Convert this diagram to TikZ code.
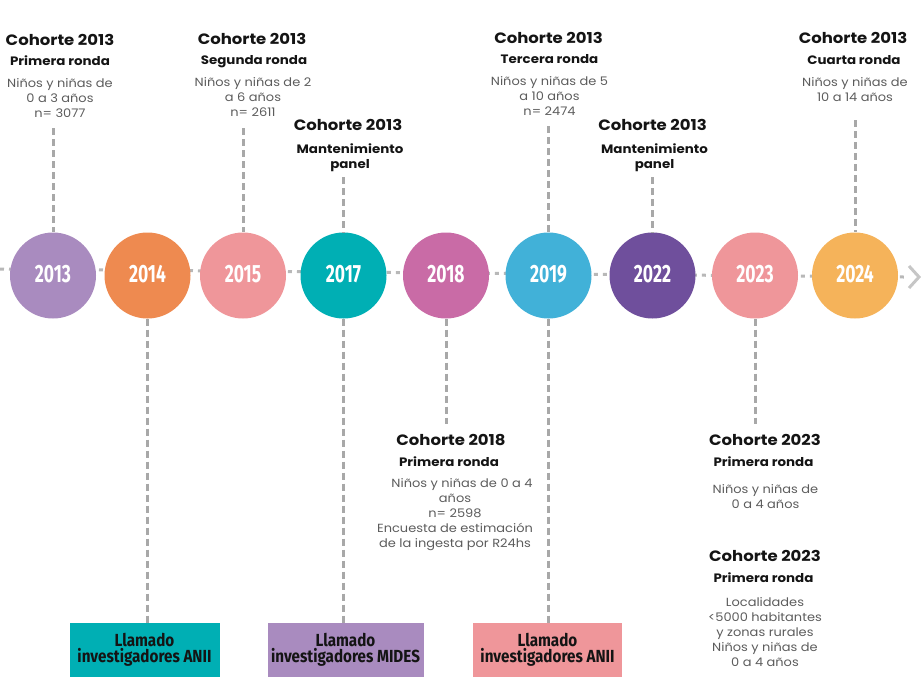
\documentclass[tikz,border=0pt]{standalone}
\usepackage{fontspec}
\setmainfont{Poppins}[FakeStretch=1.1]
\newfontfamily\yearfont[FakeStretch=0.7]{Fira Sans}
\newfontfamily\boxfont[FakeStretch=0.87]{Fira Sans}
\definecolor{cA}{HTML}{A98BBF}
\definecolor{cB}{HTML}{EE8A50}
\definecolor{cC}{HTML}{EF969A}
\definecolor{cD}{HTML}{00AFB4}
\definecolor{cE}{HTML}{C96BA6}
\definecolor{cF}{HTML}{41B1D8}
\definecolor{cG}{HTML}{6F4F9C}
\definecolor{cH}{HTML}{F5B35A}
\definecolor{txtdark}{HTML}{141414}
\definecolor{txtgray}{HTML}{5C5C5C}
\definecolor{dashgray}{HTML}{A8A8A8}
\definecolor{dotgray}{HTML}{B8B8B8}
\begin{document}
\begin{tikzpicture}[x=1pt,y=-1pt,
  yr/.style={circle, minimum size=86pt, inner sep=0pt, text=white,
    font=\yearfont\bfseries\fontsize{25}{25}\selectfont},
  ttl/.style={font=\bfseries\fontsize{15}{17}\selectfont, text=txtdark, inner sep=0pt, anchor=base},
  subt/.style={font=\bfseries\fontsize{12.2}{15}\selectfont, text=txtdark, inner sep=0pt, anchor=base, align=center},
  subtm/.style={subt, anchor=north},
  bodyt/.style={font=\fontsize{11.8}{15}\selectfont, text=txtgray, inner sep=0pt, anchor=north, align=center},
  vdash/.style={draw=dashgray, line width=3pt, dash pattern=on 7pt off 4pt},
  hdot/.style={draw=dotgray, line width=3pt, dash pattern=on 4pt off 5pt},
  callbox/.style={minimum width=150pt, minimum height=54pt, inner sep=0pt, text=txtdark, align=center,
    font=\boxfont\bfseries\fontsize{17.5}{16.5}\selectfont}
]
\useasboundingbox (0,0) rectangle (921,689);
% timeline
\coordinate (tl0) at (0,269);
\coordinate (tl1) at (904,277);
\draw[hdot] (tl0) -- (tl1);
\coordinate (arT) at (909,266);
\coordinate (arM) at (919,277);
\coordinate (arB) at (909,288);
\draw[draw=dotgray!80, line width=3pt] (arT) -- (arM) -- (arB);
% circles
\node[yr, fill=cA] (c2013) at (53,275.5) {\raisebox{4pt}{2013}};
\node[yr, fill=cB] (c2014) at (147.5,275.5) {\raisebox{4pt}{2014}};
\node[yr, fill=cC] (c2015) at (243,275.5) {\raisebox{4pt}{2015}};
\node[yr, fill=cD] (c2017) at (343.5,275.5) {\raisebox{4pt}{2017}};
\node[yr, fill=cE] (c2018) at (446,275.5) {\raisebox{4pt}{2018}};
\node[yr, fill=cF] (c2019) at (548.5,275.5) {\raisebox{4pt}{2019}};
\node[yr, fill=cG] (c2022) at (652.5,275.5) {\raisebox{4pt}{2022}};
\node[yr, fill=cC] (c2023) at (755,275.5) {\raisebox{4pt}{2023}};
\node[yr, fill=cH] (c2024) at (855,275.5) {\raisebox{4pt}{2024}};
% top groups
\node[ttl] (t1) at (60,45) {Cohorte 2013};
\node[subt] (s1) at (60,65) {Primera ronda};
\node[bodyt] (b1) at (60,78.5) {Niños y niñas de\\0 a 3 años\\n= 3077};
\node[ttl] (t2) at (252,44) {Cohorte 2013};
\node[subt] (s2) at (254,64) {Segunda ronda};
\node[bodyt] (b2) at (253,77.5) {Niños y niñas de 2\\a 6 años\\n= 2611};
\node[ttl] (t3) at (348,130) {Cohorte 2013};
\node[subtm] (s3) at (350,143.5) {Mantenimiento\\panel};
\node[ttl] (t4) at (548.5,43.5) {Cohorte 2013};
\node[subt] (s4) at (549.5,63) {Tercera ronda};
\node[bodyt] (b4) at (549.5,76.5) {Niños y niñas de 5\\a 10 años\\n= 2474};
\node[ttl] (t5) at (652.5,130) {Cohorte 2013};
\node[subtm] (s5) at (654.5,143.5) {Mantenimiento\\panel};
\node[ttl] (t6) at (853,43) {Cohorte 2013};
\node[subt] (s6) at (854,64) {Cuarta ronda};
\node[bodyt] (b6) at (855,77.5) {Niños y niñas de\\10 a 14 años};
% bottom groups
\node[ttl] (t7) at (451,445) {Cohorte 2018};
\node[subt] (s7) at (449,466) {Primera ronda};
\node[bodyt] (b7) at (455,478.5) {\hspace*{14pt}Niños y niñas de 0 a 4\\años\\n= 2598\\Encuesta de estimación\\de la ingesta por R24hs};
\node[ttl] (t8) at (765,445) {Cohorte 2023};
\node[subt] (s8) at (763.5,466) {Primera ronda};
\node[bodyt] (b8) at (765.5,484.5) {Niños y niñas de\\0 a 4 años};
\node[ttl] (t9) at (765,561) {Cohorte 2023};
\node[subt] (s9) at (763.5,582) {Primera ronda};
\node[bodyt] (b9) at (765,597.5) {Localidades\\<5000 habitantes\\y zonas rurales\\Niños y niñas de\\0 a 4 años};
% boxes
\node[callbox, fill=cD] (k1) at (144.5,650) {Llamado\\investigadores ANII};
\node[callbox, fill=cA, minimum width=156pt] (k2) at (345.5,650) {Llamado\\investigadores MIDES};
\node[callbox, fill=cC, minimum width=149pt] (k3) at (547.5,650) {Llamado\\investigadores ANII};
% connectors up
\coordinate (u1) at (53,128);
\coordinate (u2) at (243,128);
\coordinate (u3) at (343.5,177);
\coordinate (u4) at (548.5,126);
\coordinate (u5) at (652.5,177);
\coordinate (u6) at (855,120);
\draw[vdash] (u1) -- (c2013);
\draw[vdash] (u2) -- (c2015);
\draw[vdash] (u3) -- (c2017);
\draw[vdash] (u4) -- (c2019);
\draw[vdash] (u5) -- (c2022);
\draw[vdash] (u6) -- (c2024);
% connectors down
\coordinate (d7) at (446,424);
\coordinate (d8) at (755,424);
\draw[vdash] (c2014) -- (k1.north -| c2014) ;
\draw[vdash] (c2017) -- (k2.north -| c2017);
\draw[vdash] (c2019) -- (k3.north -| c2019);
\draw[vdash] (c2018) -- (d7);
\draw[vdash] (c2023) -- (d8);
\end{tikzpicture}
\end{document}
